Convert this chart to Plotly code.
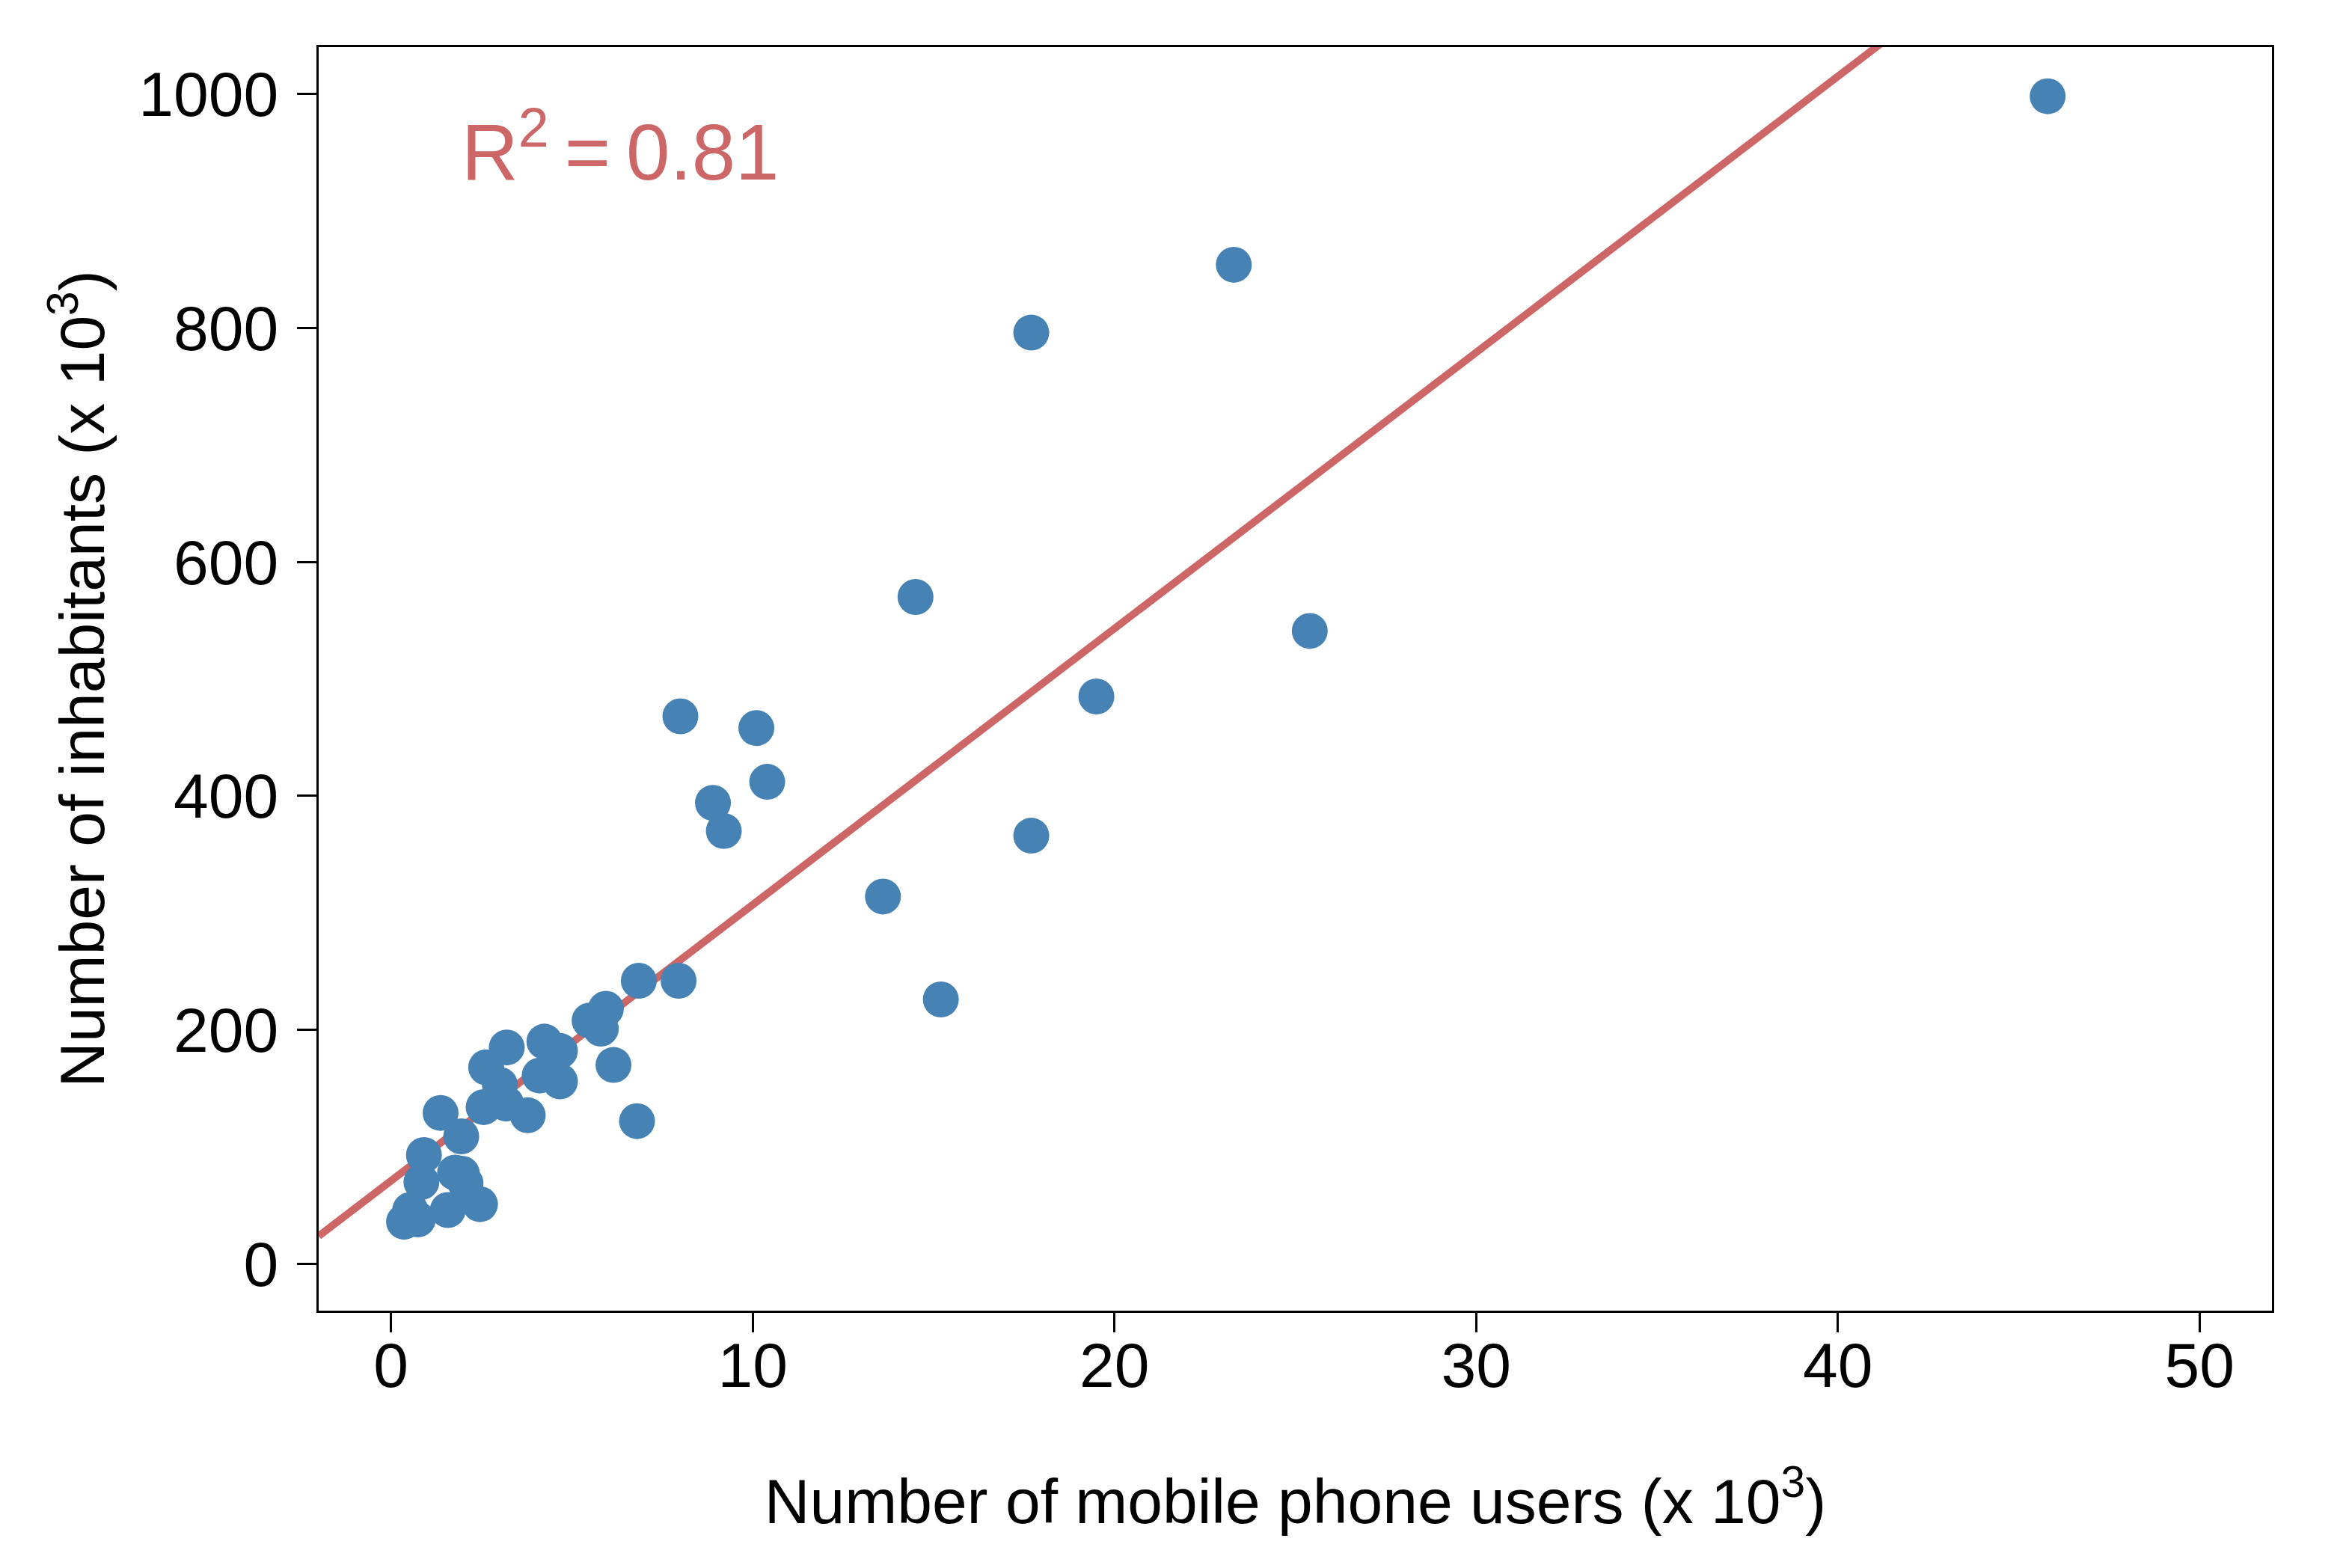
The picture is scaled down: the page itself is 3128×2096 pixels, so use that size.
import plotly.graph_objects as go

# Data (x: mobile phone users x10^3, y: inhabitants x10^3)
mobile_users = [45.8, 23.3, 17.7, 14.5, 25.4, 19.5, 8.0, 10.1, 10.4, 8.9,
                9.2, 17.7, 13.6, 15.2, 6.85, 7.95, 6.8, 5.94, 5.49, 5.80,
                6.15, 4.24, 4.67, 4.11, 4.67, 3.20, 2.63, 3.01, 2.56, 3.18,
                3.78, 1.37, 1.94, 0.91, 0.84, 1.77, 1.96, 2.06, 2.46, 1.57,
                0.36, 0.74, 0.53]
inhabitants = [998, 854, 796, 570, 541, 485, 468, 458, 412, 394,
               370, 366, 314, 226, 242, 242, 122, 218, 208, 201,
               170, 190, 182, 161, 156, 185, 168, 153, 134, 137,
               127, 129, 109, 93, 70, 78, 77, 69, 51, 46,
               36, 38, 46]

# Regression line
fit_intercept = 71.0
fit_slope = 23.6
r_squared = 0.81

x_ticks = [0, 10, 20, 30, 40, 50]
y_ticks = [0, 200, 400, 600, 800, 1000]
x_range = [-2, 52]
y_range = [-40, 1040]

FONT = "Liberation Sans, Arial, Helvetica, sans-serif"

fig = go.Figure()

line_x = [x_range[0], x_range[1]]
line_y = [fit_intercept + fit_slope * v for v in line_x]
fig.add_trace(go.Scatter(
    x=line_x, y=line_y, mode="lines",
    line=dict(color="#CD6666", width=10),
    hoverinfo="skip", showlegend=False,
))

fig.add_trace(go.Scatter(
    x=mobile_users, y=inhabitants, mode="markers",
    marker=dict(color="#4682B4", size=48, line=dict(width=0)),
    showlegend=False,
))

fig.add_annotation(
    x=1.9, y=955, xref="x", yref="y",
    text=f"R<sup>2</sup>\u2009=\u2009{r_squared:.2f}",
    showarrow=False, xanchor="left", yanchor="middle",
    font=dict(family=FONT, size=105, color="#CD6666"),
)

axis_common = dict(
    showgrid=False, zeroline=False,
    showline=True, mirror=True, linecolor="black", linewidth=3,
    ticks="outside", ticklen=26, tickwidth=3, tickcolor="black",
    tickfont=dict(family=FONT, size=84, color="black"),
)

fig.update_xaxes(
    range=x_range, tickvals=x_ticks, ticktext=[str(t) for t in x_ticks],
    ticklabelstandoff=-28,
    title=dict(text="Number of mobile phone users (x 10<sup>3</sup>)",
               font=dict(family=FONT, size=84, color="black"), standoff=107),
    **axis_common,
)
fig.update_yaxes(
    range=y_range, tickvals=y_ticks, ticktext=[str(t) for t in y_ticks],
    ticklabelstandoff=8,
    title=dict(text="Number of inhabitants (x 10<sup>3</sup>)",
               font=dict(family=FONT, size=84, color="black"), standoff=18),
    **axis_common,
)

# The page body keeps its default 8px margin, so the figure is 8px smaller
# and the margins are shifted to keep the plot area where the reference has it.
fig.update_layout(
    width=3120, height=2088,
    margin=dict(l=418, r=91, t=55, b=344),
    paper_bgcolor="white", plot_bgcolor="white",
    font=dict(family=FONT, color="black"),
)

fig.write_html("out.html")
